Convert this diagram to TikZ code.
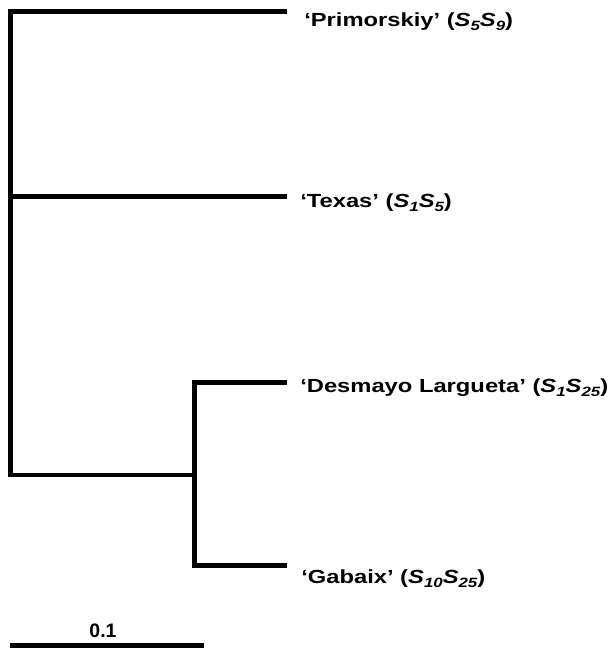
\documentclass[tikz,border=0pt]{standalone}
\usepackage{fontspec}
\setmainfont{Liberation Sans}
\usepackage{tikz}
\usetikzlibrary{positioning}

\newcommand{\subno}[1]{\raisebox{-4.5pt}{\fontsize{13.5}{14}\selectfont #1}}
\newcommand{\strain}[2]{(\textit{S\subno{#1}S\subno{#2}})}

\begin{document}
\begin{tikzpicture}[x=1pt, y=-1pt,
  branch/.style={line width=4.6pt, line join=miter},
  taxon/.style={anchor=base west, inner sep=0pt, xscale=1.25, transform shape,
    font=\bfseries\fontsize{19}{22}\selectfont}]
  \useasboundingbox (0,0) rectangle (613,648);
  % Inner nodes and tips
  \coordinate (root) at (10.5,475);
  \coordinate (inner) at (194.5,475);
  \coordinate (tprim) at (287,11.5);
  \coordinate (ttex) at (287,196.5);
  \coordinate (tdes) at (287,382.5);
  \coordinate (tgab) at (287,565.5);
  % Branches
  \draw[branch] (tprim) -| (root) -- (inner);
  \draw[branch] (ttex) -- (ttex -| root);
  \draw[branch] (tdes) -| (inner) |- (tgab);
  % Cultivars
  \node[taxon] (primorskiy) at (304,26) {`Primorskiy' \strain{5}{9}};
  \node[taxon] (texas) at (300,207) {`Texas' \strain{1}{5}};
  \node[taxon] (desmayo) at (300,392) {`Desmayo Largueta' \strain{1}{25}};
  \node[taxon] (gabaix) at (301,583) {`Gabaix' \strain{10}{25}};
  % Scale bar
  \coordinate (sbl) at (10,645.5);
  \coordinate (sbr) at (204,645.5);
  \draw[branch] (sbl) -- (sbr);
  \node[anchor=base, inner sep=0pt, font=\bfseries\fontsize{19.5}{22}\selectfont] (scale) at (103,637) {0.1};
\end{tikzpicture}
\end{document}
